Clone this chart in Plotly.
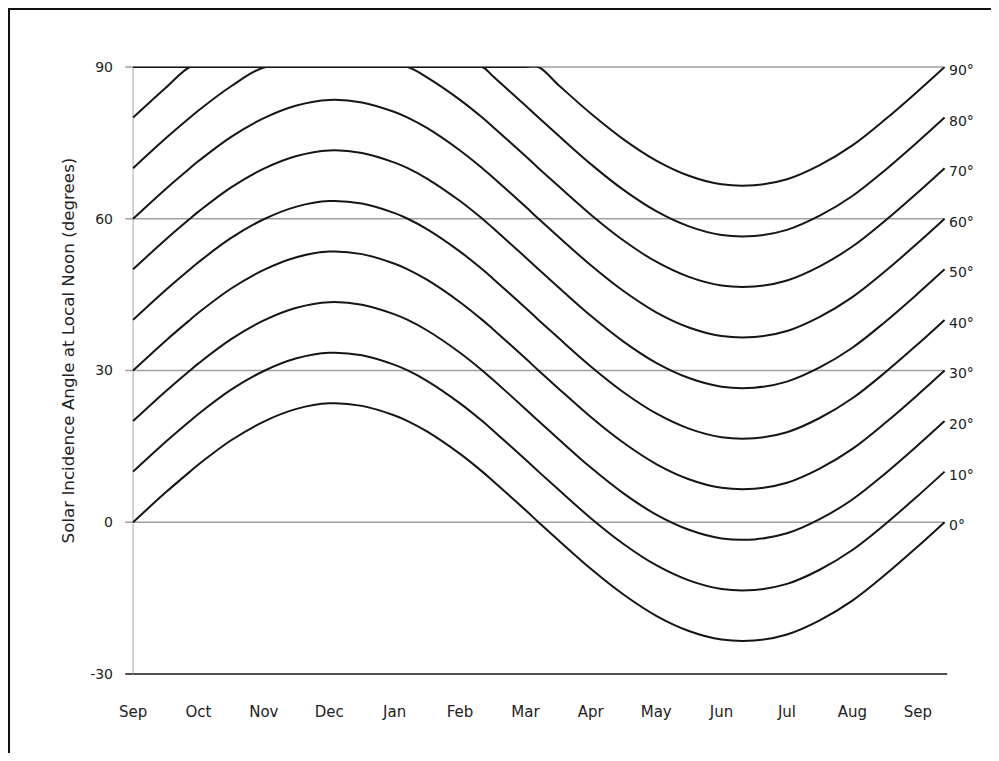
import plotly.graph_objects as go

# Sample positions along the year, in months from the September equinox
months_x = [0, 0.5, 0.87, 1, 1.5, 2, 2.5, 3, 3.5, 4, 4.2, 4.5, 5, 5.34, 5.5, 6, 6.2,
            6.5, 7, 7.5, 8, 8.5, 9, 9.5, 10, 10.5, 11, 11.5, 12, 12.41]

month_labels = ["Sep", "Oct", "Nov", "Dec", "Jan", "Feb", "Mar", "Apr", "May",
                "Jun", "Jul", "Aug", "Sep"]
month_ticks = [0, 1, 2, 3, 4, 5, 6, 7, 8, 9, 10, 11, 12]

latitudes = [0, 10, 20, 30, 40, 50, 60, 70, 80, 90]

# Noon incidence angle (degrees), one list per latitude
lat_0 = [0, 5.9, 10.0, 11.4, 16.2, 19.9, 22.4, 23.5, 23.0, 21.1, 20.0, 17.9, 13.5, 10.0, 8.2, 2.4, 0,
         -3.5, -9.2, -14.3, -18.5, -21.5, -23.2, -23.4, -22.2, -19.4, -15.5, -10.4, -4.8, 0]
lat_10 = [10, 15.9, 20.0, 21.4, 26.2, 29.9, 32.4, 33.5, 33.0, 31.1, 30.0, 27.9, 23.5, 20.0, 18.2, 12.4, 10,
          6.5, 0.8, -4.3, -8.5, -11.5, -13.2, -13.4, -12.2, -9.4, -5.5, -0.4, 5.2, 10]
lat_20 = [20, 25.9, 30.0, 31.4, 36.2, 39.9, 42.4, 43.5, 43.0, 41.1, 40.0, 37.9, 33.5, 30.0, 28.2, 22.4, 20,
          16.5, 10.8, 5.7, 1.5, -1.5, -3.2, -3.4, -2.2, 0.6, 4.5, 9.6, 15.2, 20]
lat_30 = [30, 35.9, 40.0, 41.4, 46.2, 49.9, 52.4, 53.5, 53.0, 51.1, 50.0, 47.9, 43.5, 40.0, 38.2, 32.4, 30,
          26.5, 20.8, 15.7, 11.5, 8.5, 6.8, 6.6, 7.8, 10.6, 14.5, 19.6, 25.2, 30]
lat_40 = [40, 45.9, 50.0, 51.4, 56.2, 59.9, 62.4, 63.5, 63.0, 61.1, 60.0, 57.9, 53.5, 50.0, 48.2, 42.4, 40,
          36.5, 30.8, 25.7, 21.5, 18.5, 16.8, 16.6, 17.8, 20.6, 24.5, 29.6, 35.2, 40]
lat_50 = [50, 55.9, 60.0, 61.4, 66.2, 69.9, 72.4, 73.5, 73.0, 71.1, 70.0, 67.9, 63.5, 60.0, 58.2, 52.4, 50,
          46.5, 40.8, 35.7, 31.5, 28.5, 26.8, 26.6, 27.8, 30.6, 34.5, 39.6, 45.2, 50]
lat_60 = [60, 65.9, 70.0, 71.4, 76.2, 79.9, 82.4, 83.5, 83.0, 81.1, 80.0, 77.9, 73.5, 70.0, 68.2, 62.4, 60,
          56.5, 50.8, 45.7, 41.5, 38.5, 36.8, 36.6, 37.8, 40.6, 44.5, 49.6, 55.2, 60]
lat_70 = [70, 75.9, 80.0, 81.4, 86.2, 89.9, 90, 90, 90, 90, 90, 87.9, 83.5, 80.0, 78.2, 72.4, 70,
          66.5, 60.8, 55.7, 51.5, 48.5, 46.8, 46.6, 47.8, 50.6, 54.5, 59.6, 65.2, 70]
lat_80 = [80, 85.9, 90, 90, 90, 90, 90, 90, 90, 90, 90, 90, 90, 90, 88.2, 82.4, 80,
          76.5, 70.8, 65.7, 61.5, 58.5, 56.8, 56.6, 57.8, 60.6, 64.5, 69.6, 75.2, 80]
lat_90 = [90, 90, 90, 90, 90, 90, 90, 90, 90, 90, 90, 90, 90, 90, 90, 90, 90,
          86.5, 80.8, 75.7, 71.5, 68.5, 66.8, 66.6, 67.8, 70.6, 74.5, 79.6, 85.2, 90]

series = [lat_0, lat_10, lat_20, lat_30, lat_40, lat_50, lat_60, lat_70, lat_80, lat_90]

y_ticks = [-30, 0, 30, 60, 90]
grid_values = [0, 30, 60, 90]

X_RANGE = [-0.2, 12.6]
Y_RANGE = [-31, 90]
FONT = "DejaVu Sans"


def px_(x):
    return (x - X_RANGE[0]) / (X_RANGE[1] - X_RANGE[0])


def py_(y):
    return (y - Y_RANGE[0]) / (Y_RANGE[1] - Y_RANGE[0])


fig = go.Figure()

for lat, vals in zip(latitudes, series):
    fig.add_trace(go.Scatter(
        x=months_x, y=vals, mode="lines",
        line=dict(color="#151515", width=2, shape="spline", smoothing=1.0),
        hoverinfo="skip", showlegend=False,
    ))

shapes = []
x_end = months_x[-1]
for g in grid_values:
    shapes.append(dict(type="line", xref="paper", yref="paper",
                       x0=px_(-0.12), x1=px_(x_end), y0=py_(g), y1=py_(g),
                       line=dict(color="#a0a0a0", width=1.5), layer="below"))
# darker run of the 90 line where the capped curves lie on it
shapes.append(dict(type="line", xref="paper", yref="paper",
                   x0=px_(0), x1=px_(6.2), y0=py_(90), y1=py_(90),
                   line=dict(color="#7a7a7a", width=2), layer="below"))
# bottom axis line
shapes.append(dict(type="line", xref="paper", yref="paper",
                   x0=px_(-0.12), x1=px_(12.45), y0=py_(-30), y1=py_(-30),
                   line=dict(color="#505050", width=2), layer="below"))
# vertical axis line
shapes.append(dict(type="line", xref="paper", yref="paper",
                   x0=px_(0), x1=px_(0), y0=py_(-30), y1=py_(90),
                   line=dict(color="#a8a8a8", width=1), layer="below"))
# frame around the figure
shapes.append(dict(type="rect", xref="paper", yref="paper",
                   x0=-0.1326, x1=1.1, y0=-0.2, y1=1.0948,
                   line=dict(color="#111111", width=2), fillcolor="rgba(0,0,0,0)"))

annotations = []
for lat in latitudes:
    annotations.append(dict(x=x_end, y=lat, xref="x", yref="y", text=f"{lat}°",
                            showarrow=False, xanchor="left", yanchor="middle",
                            xshift=2, yshift=-3,
                            font=dict(family=FONT, size=14, color="#222222")))
annotations.append(dict(x=-0.0621, y=0.537, xref="paper", yref="paper",
                        text="Solar Incidence Angle at Local Noon (degrees)",
                        textangle=-90, showarrow=False,
                        xanchor="center", yanchor="middle",
                        font=dict(family=FONT, size=16.7, color="#222222")))

fig.update_layout(
    width=983, height=745,
    margin=dict(l=112, r=34, t=59, b=74),
    paper_bgcolor="white", plot_bgcolor="white",
    shapes=shapes, annotations=annotations,
    xaxis=dict(range=X_RANGE, tickvals=month_ticks, ticktext=month_labels,
               showgrid=False, zeroline=False, showline=False, ticks="",
               ticklabelstandoff=22,
               tickfont=dict(family=FONT, size=15, color="#222222")),
    yaxis=dict(range=Y_RANGE, tickvals=y_ticks, ticktext=[str(v) for v in y_ticks],
               showgrid=False, zeroline=False, showline=False, ticks="",
               ticklabelstandoff=6,
               tickfont=dict(family=FONT, size=14, color="#222222")),
)

fig.write_html("out.html")
